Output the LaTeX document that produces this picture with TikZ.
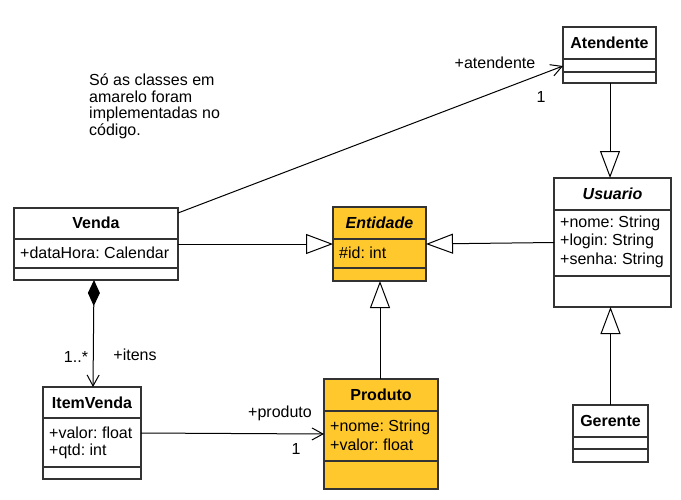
\documentclass[tikz,border=0pt]{standalone}
\usepackage{fontspec}
\setmainfont{Liberation Sans}
\usetikzlibrary{arrows.meta}
\definecolor{impl}{HTML}{FFC82C}
\definecolor{edge}{HTML}{333333}
\frenchspacing
\begin{document}
\begin{tikzpicture}[x=1pt,y=-1pt,
  every node/.style={font=\fontsize{16}{18}\selectfont, inner sep=0pt},
  cls/.style={draw=edge, line width=1.2pt, fill=white, rectangle, anchor=north west, inner sep=0pt, outer sep=0pt},
  yel/.style={fill=impl},
  cname/.style={font=\fontsize{16}{18}\selectfont\bfseries},
  aname/.style={font=\fontsize{16}{18}\selectfont\bfseries\itshape},
  attr/.style={anchor=west},
  lbl/.style={},
  conn/.style={draw=black, line width=1pt},
  assoc/.style={conn, -{Straight Barb[length=11pt,width=12pt,line width=1pt]}},
  gen/.style={conn, -{Triangle[open,length=27pt,width=20pt,line width=1pt]}},
  comp/.style={conn, {Diamond[length=26pt,width=12pt]}-{Straight Barb[length=11pt,width=12pt,line width=1pt]}},
  divider/.style={draw=edge, line width=1.2pt}
]
\useasboundingbox (0,0) rectangle (681,499);

% Venda
\node[cls, minimum width=164pt, minimum height=72pt] (venda) at (14,208) {};
\draw[divider] (14,239) -- (178,239);
\draw[divider] (14,268) -- (178,268);
\node[cname] (vendaN) at (96,223) {Venda};
\node[attr] (vendaA) at (20,253) {+dataHora: Calendar};

% Entidade
\node[cls, yel, minimum width=93pt, minimum height=74pt] (entidade) at (333,207) {};
\draw[divider] (333,239) -- (426,239);
\draw[divider] (333,268) -- (426,268);
\node[aname] (entidadeN) at (379.5,223) {Entidade};
\node[attr] (entidadeA) at (339,253) {\#id: int};

% Atendente
\node[cls, minimum width=93pt, minimum height=56pt] (atendente) at (563,27) {};
\draw[divider] (563,59) -- (656,59);
\draw[divider] (563,72) -- (656,72);
\node[cname] (atendenteN) at (609.5,43) {Atendente};

% Usuario
\node[cls, minimum width=117pt, minimum height=129pt] (usuario) at (554,178) {};
\draw[divider] (554,210) -- (671,210);
\draw[divider] (554,276) -- (671,276);
\node[aname] (usuarioN) at (612.5,194) {Usuario};
\node[attr] (usuarioA1) at (560,223) {+nome: String};
\node[attr] (usuarioA2) at (560,241.5) {+login: String};
\node[attr] (usuarioA3) at (560,260) {+senha: String};

% Gerente
\node[cls, minimum width=75pt, minimum height=57pt] (gerente) at (573,405) {};
\draw[divider] (573,437) -- (648,437);
\draw[divider] (573,449) -- (648,449);
\node[cname] (gerenteN) at (610.5,421) {Gerente};

% ItemVenda
\node[cls, minimum width=98pt, minimum height=92pt] (itemvenda) at (43,387) {};
\draw[divider] (43,418) -- (141,418);
\draw[divider] (43,467) -- (141,467);
\node[cname] (itemvendaN) at (92,403) {ItemVenda};
\node[attr] (itemvendaA1) at (49,433) {+valor: float};
\node[attr] (itemvendaA2) at (49,451) {+qtd: int};

% Produto
\node[cls, yel, minimum width=114pt, minimum height=110pt] (produto) at (324,379) {};
\draw[divider] (324,411) -- (438,411);
\draw[divider] (324,461) -- (438,461);
\node[cname] (produtoN) at (381,395) {Produto};
\node[attr] (produtoA1) at (330,427) {+nome: String};
\node[attr] (produtoA2) at (330,445) {+valor: float};

% Note
\node[anchor=north west, align=left, font=\fontsize{16}{16.4}\selectfont] (note) at (89,74) {Só as classes em\\amarelo foram\\implementadas no\\código.};

% Connectors
\draw[assoc] ([yshift=-5pt]venda.north east) -- ([yshift=-11pt]atendente.west);
\node[lbl] (lAt) at (495,63) {+atendente};
\node[lbl] (lAt1) at (541,97) {1};

\draw[gen] (venda.east) -- (entidade.west);
\draw[gen] (usuario.west) -- (entidade.east);
\draw[gen] (produto.north -| 380,0) -- (entidade.south -| 380,0);
\draw[gen] (atendente.south -| 610,0) -- (usuario.north -| 610,0);
\draw[gen] (gerente.north -| 610.5,0) -- (usuario.south -| 610.5,0);

\draw[comp] ([xshift=-2pt]venda.south) -- ([xshift=1pt]itemvenda.north);
\node[lbl] (lIt1) at (76,357) {1..*};
\node[lbl] (lIt) at (135,355) {+itens};

\draw[assoc] (itemvenda.east) -- (produto.west);
\node[lbl] (lPr) at (280,413) {+produto};
\node[lbl] (lPr1) at (296,449) {1};
\end{tikzpicture}
\end{document}
